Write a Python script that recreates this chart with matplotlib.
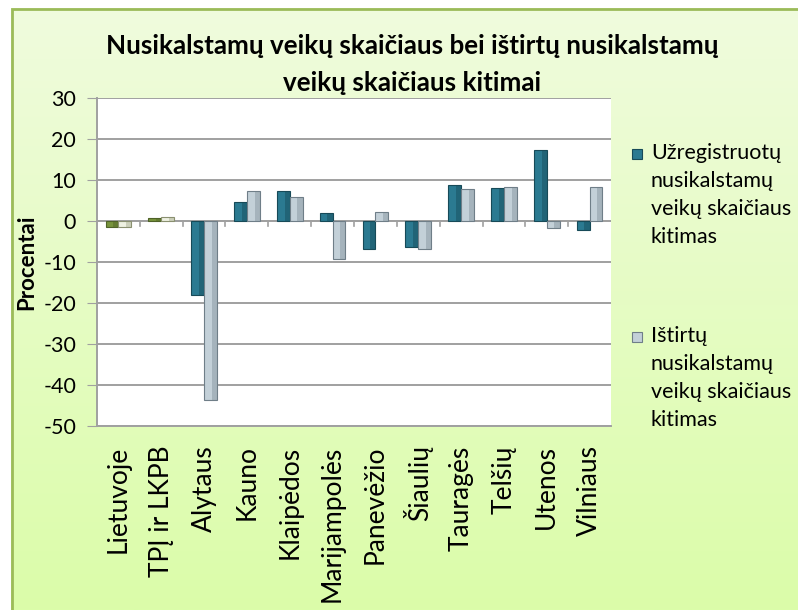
import matplotlib.pyplot as plt
import numpy as np
from matplotlib.patches import Rectangle
from matplotlib.colors import LinearSegmentedColormap

plt.rcParams['font.family'] = ['Lato', 'DejaVu Sans']
plt.rcParams['axes.unicode_minus'] = False

regions = ["Lietuvoje", "TPĮ ir LKPB", "Alytaus", "Kauno", "Klaipėdos", "Marijampolės",
           "Panevėžio", "Šiaulių", "Tauragės", "Telšių", "Utenos", "Vilniaus"]
registered = [-1.4, 0.7, -18.0, 4.6, 7.4, 1.9, -6.9, -6.3, 8.8, 8.0, 17.2, -2.2]
solved = [-1.4, 0.9, -43.6, 7.3, 5.9, -9.2, 2.2, -6.9, 7.7, 8.4, -1.6, 8.4]

label_reg = "Užregistruotų\nnusikalstamų\nveikų skaičiaus\nkitimas"
label_sol = "Ištirtų\nnusikalstamų\nveikų skaičiaus\nkitimas"

W, H = 798, 610
fig = plt.figure(figsize=(W / 100, H / 100), dpi=100)

# light green gradient background with frame
bg = fig.add_axes([0, 0, 1, 1], zorder=-10)
grad = np.linspace(0, 1, 256).reshape(-1, 1)
cmap = LinearSegmentedColormap.from_list("bg", ["#dbfda9", "#f0fbde"])
bg.imshow(grad, aspect="auto", cmap=cmap, origin="lower", extent=[0, 1, 0, 1])
bg.set_xlim(0, 1)
bg.set_ylim(0, 1)
bg.axis("off")
bg.add_patch(Rectangle((0, 0), 11 / W, 1, facecolor="white", edgecolor="none", transform=bg.transAxes))
bg.add_patch(Rectangle((0, (H - 8) / H), 1, 8 / H, facecolor="white", edgecolor="none", transform=bg.transAxes))
bg.add_patch(Rectangle((12 / W, -0.01), 1.0, (H - 9) / H + 0.01, fill=False,
                       edgecolor="#9bbb59", linewidth=2.0, transform=bg.transAxes))

ax = fig.add_axes([97 / W, (H - 426) / H, (611 - 97) / W, (426 - 98) / H])
ax.set_facecolor("white")

x = np.arange(len(regions))
w = 0.30
reg_colors = ["#77933c", "#77933c"] + ["#2b7a91"] * (len(regions) - 2)
reg_dark = ["#4f6228", "#4f6228"] + ["#174a58"] * (len(regions) - 2)
sol_colors = ["#eef1e2", "#eef1e2"] + ["#c3d0d8"] * (len(regions) - 2)
sol_dark = ["#8a9070", "#8a9070"] + ["#6f7e88"] * (len(regions) - 2)

ax.bar(x - w / 2, registered, w, color=reg_colors, edgecolor=reg_dark, linewidth=0.8, zorder=3)
ax.bar(x + w / 2, solved, w, color=sol_colors, edgecolor=sol_dark, linewidth=0.8, zorder=3)
# darker right strip for a bevelled look
ax.bar(x - w / 2 + w * 0.3, registered, w * 0.4, color=reg_dark, alpha=0.45, linewidth=0, zorder=4)
ax.bar(x + w / 2 + w * 0.3, solved, w * 0.4, color=sol_dark, alpha=0.35, linewidth=0, zorder=4)

ax.set_xlim(-0.5, len(regions) - 0.5)
ax.set_ylim(-50, 30)
ax.set_yticks(np.arange(-50, 31, 10))
ax.yaxis.grid(True, color="#a0a0a0", linewidth=1.4, zorder=0)
ax.set_axisbelow(True)

ax.axhline(0, color="#a0a0a0", linewidth=1.4, zorder=2)
ax.set_xticks(x)
ax.set_xticklabels(regions)
ax.tick_params(axis="x", length=0, pad=14, labelsize=19, labelrotation=90)
for lbl in ax.get_xticklabels():
    lbl.set_verticalalignment("top")
# small tick marks at category boundaries, on the zero line
for b in np.arange(0.5, len(regions) - 0.5, 1):
    ax.plot([b, b], [0, -1.3], color="#a0a0a0", linewidth=1.2, zorder=2)

ax.tick_params(axis="y", labelsize=15.5, length=7, color="#a0a0a0", pad=8)
for s in ["top", "right"]:
    ax.spines[s].set_visible(False)
for s in ["left", "bottom"]:
    ax.spines[s].set_color("#a0a0a0")
    ax.spines[s].set_linewidth(1.4)

ax.set_ylabel("Procentai", fontsize=16, fontweight="bold", labelpad=4)

fig.text(412 / W, 1 - 46 / H, "Nusikalstamų veikų skaičiaus bei ištirtų nusikalstamų",
         ha="center", va="center", fontsize=18.7, fontweight="bold")
fig.text(412 / W, 1 - 83 / H, "veikų skaičiaus kitimai",
         ha="center", va="center", fontsize=18.7, fontweight="bold")

# legend drawn by hand: square swatch next to the first line of each entry
for lab, col, edge, top in [(label_reg, "#2b7a91", "#174a58", 149), (label_sol, "#c3d0d8", "#6f7e88", 332)]:
    fig.patches.append(Rectangle((632 / W, 1 - (top + 10) / H), 10 / W, 10 / H, facecolor=col,
                                 edgecolor=edge, linewidth=0.8, transform=fig.transFigure))
    fig.text(651 / W, 1 - (top - 6) / H, lab, ha="left", va="top", fontsize=15.5,
             linespacing=1.49)

fig.savefig("out.png", dpi=100)
